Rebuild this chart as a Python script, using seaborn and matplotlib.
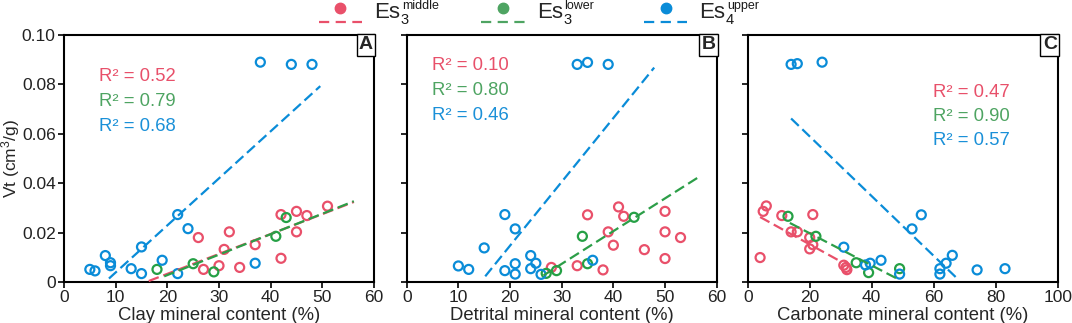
import numpy as np
import pandas as pd
import matplotlib
matplotlib.use("Agg")
import matplotlib.pyplot as plt
import seaborn as sns
from matplotlib.lines import Line2D
from matplotlib.text import Annotation
from matplotlib.legend_handler import HandlerBase

# ---------------- data ----------------
series = ["middle", "lower", "upper"]
leg_main = ["Es", "Es", "Es"]
leg_sub = ["3", "3", "4"]
leg_sup = ["middle", "lower", "upper"]

# Panel A: clay mineral content
A_mid_x = [26, 27, 30, 31, 32, 34, 37, 42, 42, 45, 45, 47, 51]
A_mid_y = [0.0180, 0.0051, 0.0066, 0.0132, 0.0203, 0.0059, 0.0151, 0.0096, 0.0273, 0.0286, 0.0203, 0.0269, 0.0307]
A_low_x = [18, 25, 29, 41, 43]
A_low_y = [0.0051, 0.0074, 0.0041, 0.0185, 0.0261]
A_up_x = [5, 6, 8, 9, 9, 13, 15, 15, 19, 22, 22, 24, 37, 38, 44, 48]
A_up_y = [0.0051, 0.0045, 0.0107, 0.0078, 0.0066, 0.0054, 0.0142, 0.0034, 0.0088, 0.0273, 0.0034, 0.0216, 0.0076, 0.0890, 0.0881, 0.0881]

# Panel B: detrital mineral content
B_mid_x = [28, 33, 35, 38, 39, 40, 41, 42, 46, 50, 50, 50, 53]
B_mid_y = [0.0059, 0.0066, 0.0272, 0.0049, 0.0203, 0.0149, 0.0304, 0.0266, 0.0131, 0.0286, 0.0203, 0.0095, 0.0180]
B_low_x = [27, 29, 34, 35, 44]
B_low_y = [0.0035, 0.0046, 0.0185, 0.0074, 0.0262]
B_up_x = [10, 12, 15, 19, 19, 21, 21, 21, 24, 24, 25, 26, 33, 35, 39, 36]
B_up_y = [0.0065, 0.0051, 0.0138, 0.0273, 0.0046, 0.0215, 0.0074, 0.0032, 0.0107, 0.0054, 0.0076, 0.0031, 0.0881, 0.0889, 0.0881, 0.0088]

# Panel C: carbonate mineral content
C_mid_x = [4, 5, 6, 11, 14, 16, 20, 20, 21, 21, 31, 31.7, 32]
C_mid_y = [0.0099, 0.0286, 0.0308, 0.0269, 0.0203, 0.0203, 0.0180, 0.0134, 0.0151, 0.0273, 0.0068, 0.0059, 0.0050]
C_low_x = [13, 22, 35, 39, 49]
C_low_y = [0.0266, 0.0185, 0.0078, 0.0038, 0.0054]
C_up_x = [14, 16, 24, 31, 38, 39.5, 43, 49, 53, 56, 62, 62, 64, 66, 74, 83]
C_up_y = [0.0881, 0.0884, 0.0890, 0.0141, 0.0069, 0.0076, 0.0088, 0.0032, 0.0215, 0.0272, 0.0054, 0.0032, 0.0076, 0.0108, 0.0049, 0.0054]

# fitted trend lines (end points)
A_fit_mid = ([16.4, 56.1], [0.0004, 0.0324])
A_fit_low = ([19.4, 56.1], [0.0023, 0.0327])
A_fit_up = ([8.7, 49.6], [0.0014, 0.0793])
B_fit_low = ([26.5, 56.6], [0.0027, 0.0426])
B_fit_up = ([15.2, 47.9], [0.0023, 0.0868])
C_fit_mid = ([4.0, 30.3], [0.0263, 0.0081])
C_fit_low = ([13.6, 48.6], [0.0239, 0.0011])
C_fit_up = ([14.0, 67.1], [0.0662, 0.0020])

A_r2 = ["0.52", "0.79", "0.68"]
B_r2 = ["0.10", "0.80", "0.46"]
C_r2 = ["0.47", "0.90", "0.57"]

xlabels = ["Clay mineral content (%)", "Detrital mineral content (%)", "Carbonate mineral content (%)"]
panel_letters = ["A", "B", "C"]

# ---------------- style ----------------
sns.set_theme(style="ticks")
plt.rcParams["font.family"] = ["Liberation Sans", "DejaVu Sans"]
plt.rcParams["mathtext.fontset"] = "custom"
plt.rcParams["mathtext.rm"] = "Liberation Sans"
plt.rcParams["mathtext.it"] = "Liberation Sans:italic"
plt.rcParams["mathtext.bf"] = "Liberation Sans:bold"

mk_colors = {"middle": "#E9506A", "lower": "#25A045", "upper": "#0A8CD8"}
ln_colors = {"middle": "#E8506A", "lower": "#2C9E48", "upper": "#0A8CD8"}
tx_colors = {"middle": "#E8506A", "lower": "#4EA462", "upper": "#1A90D8"}
leg_colors = {"middle": "#E9506A", "lower": "#4EA462", "upper": "#0A8CD8"}
dash = (0, (4.8, 2.2))

fig = plt.figure(figsize=(10.72, 3.23), dpi=100)
W, H = 1072, 323
axes = []
for left in [64, 406.7, 747.7]:
    axes.append(fig.add_axes([left / W, 41 / H, 310 / W, 247 / H]))

panels = [
    (axes[0], [(A_mid_x, A_mid_y), (A_low_x, A_low_y), (A_up_x, A_up_y)],
     {"middle": A_fit_mid, "lower": A_fit_low, "upper": A_fit_up}, A_r2, 60, 10),
    (axes[1], [(B_mid_x, B_mid_y), (B_low_x, B_low_y), (B_up_x, B_up_y)],
     {"lower": B_fit_low, "upper": B_fit_up}, B_r2, 60, 10),
    (axes[2], [(C_mid_x, C_mid_y), (C_low_x, C_low_y), (C_up_x, C_up_y)],
     {"middle": C_fit_mid, "lower": C_fit_low, "upper": C_fit_up}, C_r2, 100, 20),
]
r2_pos = [(0.113, 0.831, 0.1), (0.083, 0.878, 0.101), (0.597, 0.768, 0.098)]

for i, (ax, pts, fits, r2, xmax, xstep) in enumerate(panels):
    for s, (x, y) in zip(series, pts):
        df = pd.DataFrame({"x": x, "y": y})
        sns.scatterplot(data=df, x="x", y="y", ax=ax, s=42, color=mk_colors[s],
                        facecolor="none", edgecolor=mk_colors[s], linewidth=1.6, zorder=3)
    for s in ["middle", "lower", "upper"]:
        if s in fits:
            fx, fy = fits[s]
            sns.lineplot(x=fx, y=fy, ax=ax, color=ln_colors[s], lw=1.6,
                         linestyle=dash, zorder=4)
    ax.set_xlim(0, xmax)
    ax.set_ylim(0, 0.10)
    ax.set_xticks(np.arange(0, xmax + 1, xstep))
    ax.set_yticks([0, 0.02, 0.04, 0.06, 0.08, 0.10])
    if i == 0:
        ax.set_yticklabels(["0", "0.02", "0.04", "0.06", "0.08", "0.10"])
        ax.set_ylabel(r"Vt (cm$^3$/g)", fontsize=12.5, labelpad=0.2)
    else:
        ax.set_yticklabels([])
        ax.set_ylabel("")
    ax.set_xlabel(xlabels[i], fontsize=13.3, labelpad=1)
    ax.tick_params(axis="both", labelsize=12.5, length=4, width=1.2, color="black",
                   labelcolor="#222222", pad=2)
    for sp in ["top", "right", "left", "bottom"]:
        ax.spines[sp].set_visible(True)
        ax.spines[sp].set_linewidth(1.5)
        ax.spines[sp].set_color("black")
    # R^2 texts
    x0, y0, dy = r2_pos[i]
    for k, s in enumerate(series):
        ax.text(x0, y0 - k * dy, "R² = " + r2[k], transform=ax.transAxes,
                color=tx_colors[s], fontsize=13.3, ha="left", va="center")
    ax.text(0.997, 0.995, panel_letters[i], transform=ax.transAxes, ha="right", va="top",
            fontsize=14, fontweight="bold",
            bbox=dict(boxstyle="square,pad=0.12", fc="white", ec="black", lw=1.0), zorder=6)
    if ax.get_legend() is not None:
        ax.get_legend().remove()


# ---------------- legend ----------------
class MarkerOverLine(HandlerBase):
    def create_artists(self, legend, orig_handle, xdescent, ydescent, width, height,
                       fontsize, trans):
        c = orig_handle.get_color()
        yl = -ydescent - 0.2 * height
        line = Line2D([-xdescent, width - xdescent], [yl, yl], color=c, lw=1.6,
                      linestyle=(0, (4.6, 2.9)), transform=trans)
        mk = Line2D([(width - xdescent) / 2 - xdescent / 2], [yl + 0.85 * height], marker="o",
                    markersize=7.5, color=c, linestyle="none", transform=trans)
        return [line, mk]


handles = [Line2D([], [], color=leg_colors[s]) for s in series]
leg = fig.legend(handles, leg_main, loc="upper center", bbox_to_anchor=(0.487, 1.037), ncol=3,
                 frameon=False, fontsize=16, handler_map={Line2D: MarkerOverLine()},
                 handlelength=1.95, handletextpad=0.55, columnspacing=3.65, borderpad=0.15)
for t, sb, sp in zip(leg.get_texts(), leg_sub, leg_sup):
    a1 = Annotation(sb, xy=(1, 0), xycoords=t, xytext=(0.3, -0.4), textcoords="offset points",
                    ha="left", va="baseline", fontsize=10.5, color="#1a1a1a", zorder=7)
    a2 = Annotation(sp, xy=(1, 0), xycoords=t, xytext=(1.2, 10.6), textcoords="offset points",
                    ha="left", va="baseline", fontsize=9, color="#1a1a1a", zorder=7)
    fig.add_artist(a1)
    fig.add_artist(a2)

fig.savefig("out.png", dpi=100)
